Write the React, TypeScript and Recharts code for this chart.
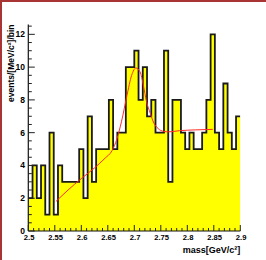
import React from "react";
import { ComposedChart, Area, Line, XAxis, YAxis } from "recharts";

// Histogram definition
const MASS_MIN = 2.5;
const MASS_MAX = 2.9;
const BIN_WIDTH = 0.008;
const binCounts = [
  2, 4, 2, 4, 1, 6, 1, 4, 3, 3,
  3, 3, 5, 2, 7, 3, 5, 5, 5, 8,
  5, 6, 6, 10, 10, 11, 8, 10, 7, 8,
  6, 6, 11, 3, 8, 8, 6, 5, 6, 5,
  5, 6, 8, 12, 6, 5, 9, 6, 5, 7,
];

// Fit curve
const fitMass = [2.552, 2.575, 2.6, 2.625, 2.645, 2.658, 2.667, 2.676, 2.686, 2.695, 2.703, 2.711, 2.717, 2.723, 2.73, 2.736, 2.745, 2.755, 2.765, 2.785, 2.815, 2.848];
const fitValue = [1.8, 2.5, 3.2, 3.85, 4.45, 4.9, 5.6, 6.7, 8.25, 9.5, 9.95, 9.7, 8.9, 7.9, 7.2, 6.65, 6.25, 6.08, 6.05, 6.12, 6.17, 6.2];

// Axes
const Y_MAX = 12.6;
const yMajorTicks = [0, 2, 4, 6, 8, 10, 12];
const yTickLabels = ["0", "2", "4", "6", "8", "10", "12"];
const xMajorTicks = [2.5, 2.55, 2.6, 2.65, 2.7, 2.75, 2.8, 2.85, 2.9];
const xTickLabels = ["2.5", "2.55", "2.6", "2.65", "2.7", "2.75", "2.8", "2.85", "2.9"];
const xTitle = "mass[GeV/c²]";
const yTitle = "events/[MeV/c²]/bin";

const yTicks: number[] = [];
for (let k = 0; k <= 25; k++) yTicks.push(k / 2);
const xTicks: number[] = [];
for (let k = 0; k <= 40; k++) xTicks.push((250 + k) / 100);

type Row = { x: number; n?: number | null; fit?: number | null };
const rows: Row[] = [];
binCounts.forEach((c, i) => rows.push({ x: +(MASS_MIN + i * BIN_WIDTH).toFixed(4), n: c, fit: null }));
rows.push({ x: MASS_MAX, n: binCounts[binCounts.length - 1], fit: null });
fitMass.forEach((m, i) => rows.push({ x: m, n: null, fit: fitValue[i] }));
rows.sort((a, b) => a.x - b.x);

const FONT = "'Liberation Sans', Arial, Helvetica, sans-serif";

const YTick = (props: any) => {
  const { x, y, payload } = props;
  const v = payload.value;
  const idx = yMajorTicks.findIndex((t) => Math.abs(t - v) < 1e-6);
  const len = idx >= 0 ? 6.5 : 3.5;
  return (
    <g>
      <line x1={x} x2={x + len} y1={y} y2={y} stroke="#222" strokeWidth={1} />
      {idx >= 0 && (
        <text x={x - 3.4} y={y + 3} textAnchor="end" fontSize={8.5} fontWeight="bold" fontFamily={FONT} fill="#000">
          {yTickLabels[idx]}
        </text>
      )}
    </g>
  );
};

const XTick = (props: any) => {
  const { x, y, payload } = props;
  const v = payload.value;
  const idx = xMajorTicks.findIndex((t) => Math.abs(t - v) < 1e-6);
  const len = idx >= 0 ? 6 : 3;
  return (
    <g>
      <line x1={x} x2={x} y1={y} y2={y - len} stroke="#222" strokeWidth={1} />
      {idx >= 0 && (
        <text x={x + 0.8} y={y + 9.3} textAnchor="middle" fontSize={7.6} fontWeight="bold" fontFamily={FONT} fill="#000">
          {xTickLabels[idx]}
        </text>
      )}
    </g>
  );
};

const XTitle = (props: any) => {
  const vb = props.viewBox;
  return (
    <text x={vb.x + vb.width} y={vb.y + 22} textAnchor="end" fontSize={9} fontWeight="bold" fontFamily={FONT} fill="#000">
      {xTitle}
    </text>
  );
};

const YTitle = (props: any) => {
  const vb = props.viewBox;
  const cx = vb.x + 11;
  const cy = vb.y;
  return (
    <text
      x={cx}
      y={cy}
      transform={`rotate(-90 ${cx} ${cy})`}
      textAnchor="end"
      dominantBaseline="central"
      fontSize={8.5}
      fontWeight="bold"
      fontFamily={FONT}
      fill="#000"
    >
      {yTitle}
    </text>
  );
};

export default function App() {
  return (
    <div style={{ position: "absolute", left: 0, top: 0, width: 266, height: 260, background: "#fff", overflow: "hidden" }}>
      <ComposedChart width={266} height={260} data={rows} margin={{ top: 24.5, right: 25.7, left: 0, bottom: 0 }}>
        <Area
          type="stepAfter"
          dataKey="n"
          fill="#ffff00"
          fillOpacity={1}
          stroke="#1a1a1a"
          strokeWidth={1.8}
          connectNulls
          dot={false}
          activeDot={false}
          isAnimationActive={false}
        />
        <Line
          type="monotone"
          dataKey="fit"
          stroke="#ff2a2a"
          strokeWidth={1}
          connectNulls
          dot={false}
          activeDot={false}
          isAnimationActive={false}
        />
        <XAxis
          dataKey="x"
          type="number"
          domain={[MASS_MIN, MASS_MAX]}
          ticks={xTicks}
          interval={0}
          tickSize={0}
          tickMargin={0}
          tickLine={false}
          tick={(p: any) => <XTick {...p} />}
          axisLine={{ stroke: "#111", strokeWidth: 1.2 }}
          height={29}
          allowDataOverflow
          label={(p: any) => <XTitle {...p} />}
        />
        <YAxis
          type="number"
          domain={[0, Y_MAX]}
          ticks={yTicks}
          interval={0}
          tickSize={0}
          tickMargin={0}
          tickLine={false}
          tick={(p: any) => <YTick {...p} />}
          axisLine={{ stroke: "#111", strokeWidth: 1.2 }}
          width={28.3}
          allowDataOverflow
          label={(p: any) => <YTitle {...p} />}
        />
        <XAxis xAxisId="top" orientation="top" type="number" domain={[MASS_MIN, MASS_MAX]} height={0} tick={false} tickLine={false} axisLine={{ stroke: "#111", strokeWidth: 1.2 }} />
        <YAxis yAxisId="right" orientation="right" type="number" domain={[0, Y_MAX]} width={0} tick={false} tickLine={false} axisLine={{ stroke: "#111", strokeWidth: 1.2 }} />
      </ComposedChart>
      <div style={{ position: "absolute", left: 0, top: 0, width: 266, height: 2, background: "#a83434" }} />
      <div style={{ position: "absolute", left: 0, top: 0, width: 2, height: 260, background: "#a83434" }} />
    </div>
  );
}
